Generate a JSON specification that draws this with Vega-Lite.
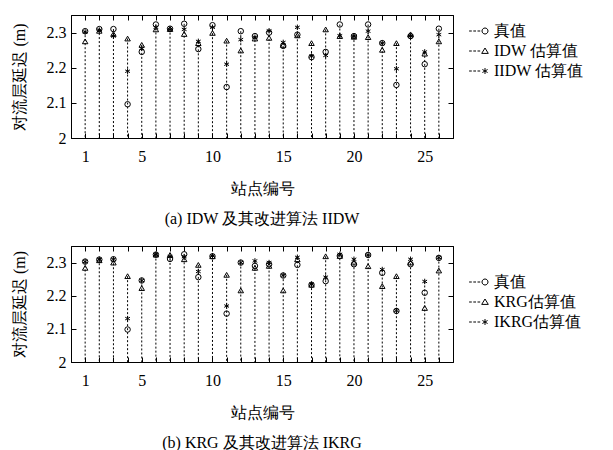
{
  "$schema": "https://vega.github.io/schema/vega-lite/v6.json",
  "padding": {"left": 10, "top": 14, "right": 5, "bottom": 0},
  "datasets": {
    "a": [
      {"station":1,"series":"真值","value":2.304},{"station":1,"series":"IDW 估算值","value":2.275},{"station":1,"series":"IIDW 估算值","value":2.302},
      {"station":2,"series":"真值","value":2.31},{"station":2,"series":"IDW 估算值","value":2.305},{"station":2,"series":"IIDW 估算值","value":2.307},
      {"station":3,"series":"真值","value":2.31},{"station":3,"series":"IDW 估算值","value":2.296},{"station":3,"series":"IIDW 估算值","value":2.29},
      {"station":4,"series":"真值","value":2.096},{"station":4,"series":"IDW 估算值","value":2.283},{"station":4,"series":"IIDW 估算值","value":2.19},
      {"station":5,"series":"真值","value":2.245},{"station":5,"series":"IDW 估算值","value":2.265},{"station":5,"series":"IIDW 估算值","value":2.255},
      {"station":6,"series":"真值","value":2.323},{"station":6,"series":"IDW 估算值","value":2.309},{"station":6,"series":"IIDW 估算值","value":2.315},
      {"station":7,"series":"真值","value":2.311},{"station":7,"series":"IDW 估算值","value":2.31},{"station":7,"series":"IIDW 估算值","value":2.309},
      {"station":8,"series":"真值","value":2.325},{"station":8,"series":"IDW 估算值","value":2.296},{"station":8,"series":"IIDW 估算值","value":2.309},
      {"station":9,"series":"真值","value":2.253},{"station":9,"series":"IDW 估算值","value":2.27},{"station":9,"series":"IIDW 估算值","value":2.275},
      {"station":10,"series":"真值","value":2.321},{"station":10,"series":"IDW 估算值","value":2.299},{"station":10,"series":"IIDW 估算值","value":2.315},
      {"station":11,"series":"真值","value":2.145},{"station":11,"series":"IDW 估算值","value":2.277},{"station":11,"series":"IIDW 估算值","value":2.21},
      {"station":12,"series":"真值","value":2.304},{"station":12,"series":"IDW 估算值","value":2.249},{"station":12,"series":"IIDW 估算值","value":2.28},
      {"station":13,"series":"真值","value":2.29},{"station":13,"series":"IDW 估算值","value":2.283},{"station":13,"series":"IIDW 估算值","value":2.287},
      {"station":14,"series":"真值","value":2.30},{"station":14,"series":"IDW 估算值","value":2.285},{"station":14,"series":"IIDW 估算值","value":2.305},
      {"station":15,"series":"真值","value":2.262},{"station":15,"series":"IDW 估算值","value":2.265},{"station":15,"series":"IIDW 估算值","value":2.272},
      {"station":16,"series":"真值","value":2.294},{"station":16,"series":"IDW 估算值","value":2.292},{"station":16,"series":"IIDW 估算值","value":2.315},
      {"station":17,"series":"真值","value":2.23},{"station":17,"series":"IDW 估算值","value":2.27},{"station":17,"series":"IIDW 估算值","value":2.233},
      {"station":18,"series":"真值","value":2.245},{"station":18,"series":"IDW 估算值","value":2.309},{"station":18,"series":"IIDW 估算值","value":2.235},
      {"station":19,"series":"真值","value":2.323},{"station":19,"series":"IDW 估算值","value":2.29},{"station":19,"series":"IIDW 估算值","value":2.291},
      {"station":20,"series":"真值","value":2.29},{"station":20,"series":"IDW 估算值","value":2.288},{"station":20,"series":"IIDW 估算值","value":2.29},
      {"station":21,"series":"真值","value":2.323},{"station":21,"series":"IDW 估算值","value":2.287},{"station":21,"series":"IIDW 估算值","value":2.304},
      {"station":22,"series":"真值","value":2.27},{"station":22,"series":"IDW 估算值","value":2.251},{"station":22,"series":"IIDW 估算值","value":2.27},
      {"station":23,"series":"真值","value":2.151},{"station":23,"series":"IDW 估算值","value":2.27},{"station":23,"series":"IIDW 估算值","value":2.197},
      {"station":24,"series":"真值","value":2.29},{"station":24,"series":"IDW 估算值","value":2.295},{"station":24,"series":"IIDW 估算值","value":2.29},
      {"station":25,"series":"真值","value":2.21},{"station":25,"series":"IDW 估算值","value":2.24},{"station":25,"series":"IIDW 估算值","value":2.245},
      {"station":26,"series":"真值","value":2.311},{"station":26,"series":"IDW 估算值","value":2.275},{"station":26,"series":"IIDW 估算值","value":2.294}
    ],
    "b": [
      {"station":1,"series":"真值","value":2.303},{"station":1,"series":"KRG估算值","value":2.284},{"station":1,"series":"IKRG估算值","value":2.303},
      {"station":2,"series":"真值","value":2.309},{"station":2,"series":"KRG估算值","value":2.307},{"station":2,"series":"IKRG估算值","value":2.31},
      {"station":3,"series":"真值","value":2.31},{"station":3,"series":"KRG估算值","value":2.30},{"station":3,"series":"IKRG估算值","value":2.31},
      {"station":4,"series":"真值","value":2.098},{"station":4,"series":"KRG估算值","value":2.259},{"station":4,"series":"IKRG估算值","value":2.131},
      {"station":5,"series":"真值","value":2.246},{"station":5,"series":"KRG估算值","value":2.223},{"station":5,"series":"IKRG估算值","value":2.246},
      {"station":6,"series":"真值","value":2.324},{"station":6,"series":"KRG估算值","value":2.324},{"station":6,"series":"IKRG估算值","value":2.324},
      {"station":7,"series":"真值","value":2.311},{"station":7,"series":"KRG估算值","value":2.323},{"station":7,"series":"IKRG估算值","value":2.318},
      {"station":8,"series":"真值","value":2.325},{"station":8,"series":"KRG估算值","value":2.31},{"station":8,"series":"IKRG估算值","value":2.318},
      {"station":9,"series":"真值","value":2.256},{"station":9,"series":"KRG估算值","value":2.293},{"station":9,"series":"IKRG估算值","value":2.273},
      {"station":10,"series":"真值","value":2.319},{"station":10,"series":"KRG估算值","value":2.319},{"station":10,"series":"IKRG估算值","value":2.32},
      {"station":11,"series":"真值","value":2.146},{"station":11,"series":"KRG估算值","value":2.263},{"station":11,"series":"IKRG估算值","value":2.169},
      {"station":12,"series":"真值","value":2.30},{"station":12,"series":"KRG估算值","value":2.216},{"station":12,"series":"IKRG估算值","value":2.30},
      {"station":13,"series":"真值","value":2.29},{"station":13,"series":"KRG估算值","value":2.284},{"station":13,"series":"IKRG估算值","value":2.305},
      {"station":14,"series":"真值","value":2.295},{"station":14,"series":"KRG估算值","value":2.29},{"station":14,"series":"IKRG估算值","value":2.30},
      {"station":15,"series":"真值","value":2.261},{"station":15,"series":"KRG估算值","value":2.216},{"station":15,"series":"IKRG估算值","value":2.262},
      {"station":16,"series":"真值","value":2.293},{"station":16,"series":"KRG估算值","value":2.31},{"station":16,"series":"IKRG估算值","value":2.316},
      {"station":17,"series":"真值","value":2.233},{"station":17,"series":"KRG估算值","value":2.233},{"station":17,"series":"IKRG估算值","value":2.235},
      {"station":18,"series":"真值","value":2.244},{"station":18,"series":"KRG估算值","value":2.319},{"station":18,"series":"IKRG估算值","value":2.256},
      {"station":19,"series":"真值","value":2.32},{"station":19,"series":"KRG估算值","value":2.32},{"station":19,"series":"IKRG估算值","value":2.325},
      {"station":20,"series":"真值","value":2.295},{"station":20,"series":"KRG估算值","value":2.30},{"station":20,"series":"IKRG估算值","value":2.31},
      {"station":21,"series":"真值","value":2.323},{"station":21,"series":"KRG估算值","value":2.289},{"station":21,"series":"IKRG估算值","value":2.323},
      {"station":22,"series":"真值","value":2.269},{"station":22,"series":"KRG估算值","value":2.229},{"station":22,"series":"IKRG估算值","value":2.279},
      {"station":23,"series":"真值","value":2.154},{"station":23,"series":"KRG估算值","value":2.259},{"station":23,"series":"IKRG估算值","value":2.155},
      {"station":24,"series":"真值","value":2.295},{"station":24,"series":"KRG估算值","value":2.30},{"station":24,"series":"IKRG估算值","value":2.31},
      {"station":25,"series":"真值","value":2.209},{"station":25,"series":"KRG估算值","value":2.163},{"station":25,"series":"IKRG估算值","value":2.243},
      {"station":26,"series":"真值","value":2.314},{"station":26,"series":"KRG估算值","value":2.276},{"station":26,"series":"IKRG估算值","value":2.315}
    ]
  },
  "spacing": 17,
  "vconcat": [
    {
      "width": 382, "height": 123,
      "data": {"name": "a"},
      "title": {"text": "(a) IDW 及其改进算法 IIDW", "orient": "bottom", "anchor": "middle", "offset": 15},
      "layer": [
        {
          "mark": {"type": "rule", "strokeDash": [2, 2], "color": "black", "strokeWidth": 1},
          "encoding": {
            "x": {"field": "station", "type": "quantitative", "scale": {"domain": [0, 27], "nice": false},
              "axis": {"orient": "bottom", "values": [1,2,3,4,5,6,7,8,9,10,11,12,13,14,15,16,17,18,19,20,21,22,23,24,25,26],
                "labelExpr": "indexof([1,5,10,15,20,25], datum.value) >= 0 ? datum.label : ''", "title": "站点编号"}},
            "y": {"aggregate": "max", "field": "value", "type": "quantitative", "scale": {"domain": [2, 2.35], "nice": false, "zero": false},
              "axis": {"orient": "left", "values": [2, 2.1, 2.2, 2.3], "format": ".1~f", "title": "对流层延迟 (m)"}},
            "y2": {"datum": 2}
          }
        },
        {
          "mark": {"type": "point", "filled": false, "color": "black", "strokeWidth": 1, "size": 30, "opacity": 1},
          "encoding": {
            "x": {"field": "station", "type": "quantitative", "scale": {"domain": [0, 27], "nice": false},
              "axis": {"orient": "top", "values": [1,2,3,4,5,6,7,8,9,10,11,12,13,14,15,16,17,18,19,20,21,22,23,24,25,26], "labels": false, "title": null}},
            "y": {"field": "value", "type": "quantitative", "scale": {"domain": [2, 2.35], "nice": false, "zero": false},
              "axis": {"orient": "right", "values": [2.1, 2.2, 2.3], "labels": false, "title": null}},
            "shape": {"field": "series", "type": "nominal",
              "scale": {"domain": ["真值", "IDW 估算值", "IIDW 估算值"], "range": ["circle", "triangle-up", "M0,-1V1M-0.87,-0.5L0.87,0.5M-0.87,0.5L0.87,-0.5"]},
              "legend": null}
          }
        },
        {
          "transform": [{"filter": "false"}],
          "mark": {"type": "point", "filled": false, "color": "black", "strokeWidth": 1, "opacity": 1},
          "encoding": {
            "x": {"field": "station", "type": "quantitative", "axis": null},
            "y": {"field": "value", "type": "quantitative", "axis": null},
            "shape": {"field": "series", "type": "nominal",
              "scale": {"domain": ["真值", "IDW 估算值", "IIDW 估算值"], "range": [
                "M-5.3,0H-4.4M-3.9,0H-3M-2.5,0H-1.6M1,0A1,1,0,1,1,-1,0A1,1,0,1,1,1,0",
                "M-5.3,0H-4.4M-3.9,0H-3M-2.5,0H-1.6M0,-1L1.1,0.8H-1.1Z",
                "M-5.3,0H-4.4M-3.9,0H-3M-2.5,0H-1.6M0,-1V1M-0.87,-0.5L0.87,0.5M-0.87,0.5L0.87,-0.5"]},
              "legend": {"title": null, "orient": "none", "legendX": 406, "legendY": 8}}
          }
        }
      ],
      "resolve": {"axis": {"x": "independent", "y": "independent"}, "scale": {"shape": "independent"}}
    },
    {
      "width": 382, "height": 116,
      "data": {"name": "b"},
      "title": {"text": "(b) KRG 及其改进算法 IKRG", "orient": "bottom", "anchor": "middle", "offset": 15},
      "layer": [
        {
          "mark": {"type": "rule", "strokeDash": [2, 2], "color": "black", "strokeWidth": 1},
          "encoding": {
            "x": {"field": "station", "type": "quantitative", "scale": {"domain": [0, 27], "nice": false},
              "axis": {"orient": "bottom", "values": [1,2,3,4,5,6,7,8,9,10,11,12,13,14,15,16,17,18,19,20,21,22,23,24,25,26],
                "labelExpr": "indexof([1,5,10,15,20,25], datum.value) >= 0 ? datum.label : ''", "title": "站点编号"}},
            "y": {"aggregate": "max", "field": "value", "type": "quantitative", "scale": {"domain": [2, 2.35], "nice": false, "zero": false},
              "axis": {"orient": "left", "values": [2, 2.1, 2.2, 2.3], "format": ".1~f", "title": "对流层延迟 (m)"}},
            "y2": {"datum": 2}
          }
        },
        {
          "mark": {"type": "point", "filled": false, "color": "black", "strokeWidth": 1, "size": 30, "opacity": 1},
          "encoding": {
            "x": {"field": "station", "type": "quantitative", "scale": {"domain": [0, 27], "nice": false},
              "axis": {"orient": "top", "values": [1,2,3,4,5,6,7,8,9,10,11,12,13,14,15,16,17,18,19,20,21,22,23,24,25,26], "labels": false, "title": null}},
            "y": {"field": "value", "type": "quantitative", "scale": {"domain": [2, 2.35], "nice": false, "zero": false},
              "axis": {"orient": "right", "values": [2.1, 2.2, 2.3], "labels": false, "title": null}},
            "shape": {"field": "series", "type": "nominal",
              "scale": {"domain": ["真值", "KRG估算值", "IKRG估算值"], "range": ["circle", "triangle-up", "M0,-1V1M-0.87,-0.5L0.87,0.5M-0.87,0.5L0.87,-0.5"]},
              "legend": null}
          }
        },
        {
          "transform": [{"filter": "false"}],
          "mark": {"type": "point", "filled": false, "color": "black", "strokeWidth": 1, "opacity": 1},
          "encoding": {
            "x": {"field": "station", "type": "quantitative", "axis": null},
            "y": {"field": "value", "type": "quantitative", "axis": null},
            "shape": {"field": "series", "type": "nominal",
              "scale": {"domain": ["真值", "KRG估算值", "IKRG估算值"], "range": [
                "M-5.3,0H-4.4M-3.9,0H-3M-2.5,0H-1.6M1,0A1,1,0,1,1,-1,0A1,1,0,1,1,1,0",
                "M-5.3,0H-4.4M-3.9,0H-3M-2.5,0H-1.6M0,-1L1.1,0.8H-1.1Z",
                "M-5.3,0H-4.4M-3.9,0H-3M-2.5,0H-1.6M0,-1V1M-0.87,-0.5L0.87,0.5M-0.87,0.5L0.87,-0.5"]},
              "legend": {"title": null, "orient": "none", "legendX": 406, "legendY": 28}}
          }
        }
      ],
      "resolve": {"axis": {"x": "independent", "y": "independent"}, "scale": {"shape": "independent"}}
    }
  ],
  "resolve": {"scale": {"shape": "independent"}, "legend": {"shape": "independent"}},
  "config": {
    "font": "Liberation Serif",
    "view": {"stroke": "black", "strokeWidth": 1},
    "title": {"font": "Liberation Serif", "fontSize": 16, "fontWeight": "normal", "color": "black"},
    "axis": {"grid": false, "domainColor": "black", "domainWidth": 1, "tickColor": "black", "tickSize": -5, "tickWidth": 1,
      "labelFont": "Liberation Serif", "labelFontSize": 16, "labelColor": "black", "labelPadding": 15,
      "titleFont": "Liberation Serif", "titleFontSize": 16, "titleFontWeight": "normal", "titleColor": "black", "titlePadding": 16},
    "axisY": {"labelPadding": 10, "titlePadding": 19},
    "legend": {"labelFont": "Liberation Serif", "labelFontSize": 16, "labelColor": "black", "symbolSize": 36, "symbolStrokeColor": "black",
      "symbolStrokeWidth": 1, "symbolFillColor": "transparent", "rowPadding": 4, "labelOffset": 1, "padding": 0}
  }
}
